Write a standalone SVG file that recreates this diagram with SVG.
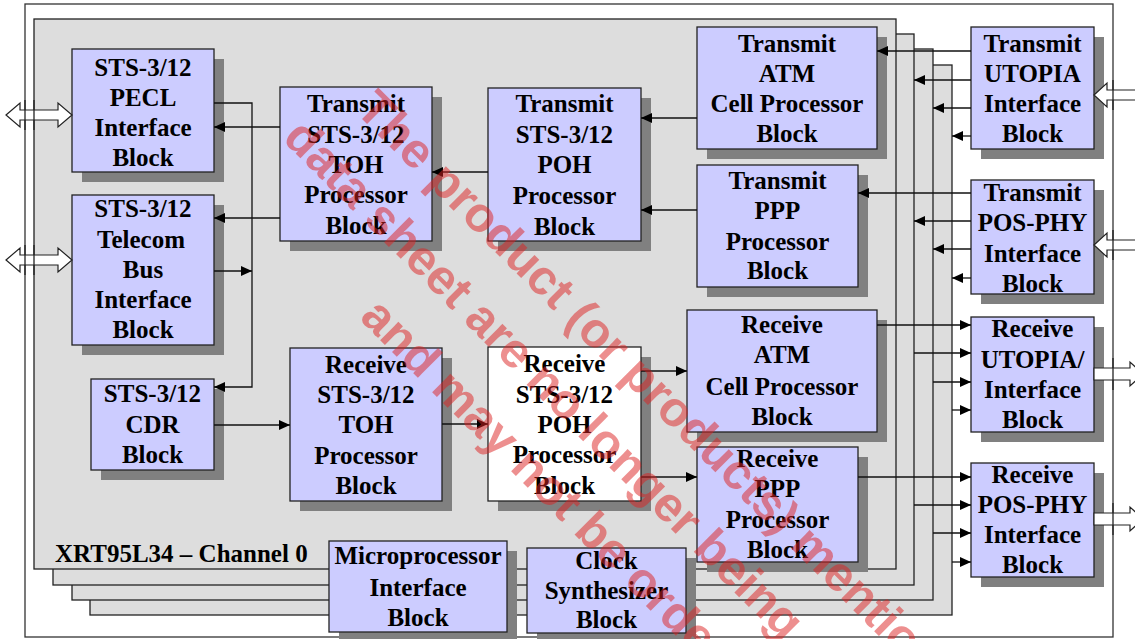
<svg xmlns="http://www.w3.org/2000/svg" width="1135" height="639" viewBox="0 0 1135 639">
<style>
.layer{fill:#dddddd;stroke:#222;stroke-width:1.3}
.sh{fill:#808080}
.bx{fill:#ccccff;stroke:#222;stroke-width:1.3}
.wbx{fill:#ffffff;stroke:#222;stroke-width:1.3}
.t{font-family:"Liberation Serif","Times New Roman",serif;font-weight:bold;font-size:25px;fill:#000;text-anchor:middle}
.lbl{font-family:"Liberation Serif","Times New Roman",serif;font-weight:bold;font-size:25px;fill:#000}
.c{fill:none;stroke:#111;stroke-width:1.3}
.ca{fill:none;stroke:#111;stroke-width:1.3;marker-end:url(#ah)}
.hol{fill:#ffffff;stroke:#222;stroke-width:1.2}
.fl{stroke:#222;stroke-width:1.3}
.wm{font-family:"Liberation Sans",Arial,sans-serif;font-weight:bold;font-size:49px;fill:#dd2222;opacity:0.5}
</style>
<defs>
<marker id="ah" markerUnits="userSpaceOnUse" markerWidth="11" markerHeight="10" refX="11" refY="5" orient="auto">
<path d="M0,0 L11,5 L0,10 z" fill="#000"/>
</marker>
</defs>
<g id="frame">
<rect x="25" y="4" width="1088" height="633" fill="#ffffff" stroke="#333" stroke-width="1.3"/>
<rect class="layer" x="90" y="65" width="862" height="550"/>
<rect class="layer" x="72" y="49" width="861" height="551"/>
<rect class="layer" x="53" y="34" width="861" height="551"/>
<rect class="layer" x="34" y="19" width="862" height="550"/>
<text class="lbl" x="55" y="562">XRT95L34 – Channel 0</text>
</g>
<g id="pecl">
<rect class="sh" x="82" y="59" width="142" height="123"/>
<rect class="bx" x="72" y="49" width="142" height="123"/>
<text class="t" x="143" y="76">STS-3/12</text><text class="t" x="143" y="106">PECL</text><text class="t" x="143" y="136">Interface</text><text class="t" x="143" y="166">Block</text>
</g>
<g id="telecom">
<rect class="sh" x="82" y="205" width="142" height="150"/>
<rect class="bx" x="72" y="195" width="142" height="150"/>
<text class="t" x="143" y="217">STS-3/12</text><text class="t" x="141" y="248">Telecom</text><text class="t" x="143" y="278">Bus</text><text class="t" x="143" y="308">Interface</text><text class="t" x="143" y="338">Block</text>
</g>
<g id="cdr">
<rect class="sh" x="101" y="389" width="123" height="91"/>
<rect class="bx" x="91" y="379" width="123" height="91"/>
<text class="t" x="152.5" y="402">STS-3/12</text><text class="t" x="152.5" y="433">CDR</text><text class="t" x="152.5" y="463">Block</text>
</g>
<g id="tx-toh">
<rect class="sh" x="290" y="97" width="152" height="154"/>
<rect class="bx" x="280" y="87" width="152" height="154"/>
<text class="t" x="356" y="112">Transmit</text><text class="t" x="356" y="143">STS-3/12</text><text class="t" x="356" y="173">TOH</text><text class="t" x="356" y="203">Processor</text><text class="t" x="356" y="234">Block</text>
</g>
<g id="tx-poh">
<rect class="sh" x="498" y="98" width="153" height="153"/>
<rect class="bx" x="488" y="88" width="153" height="153"/>
<text class="t" x="564.5" y="112">Transmit</text><text class="t" x="564.5" y="143">STS-3/12</text><text class="t" x="564.5" y="173">POH</text><text class="t" x="564.5" y="204">Processor</text><text class="t" x="564.5" y="235">Block</text>
</g>
<g id="tx-atm">
<rect class="sh" x="707" y="37" width="180" height="122"/>
<rect class="bx" x="697" y="27" width="180" height="122"/>
<text class="t" x="787" y="52">Transmit</text><text class="t" x="787" y="82">ATM</text><text class="t" x="787" y="112">Cell Processor</text><text class="t" x="787" y="142">Block</text>
</g>
<g id="tx-ppp">
<rect class="sh" x="707" y="175" width="161" height="122"/>
<rect class="bx" x="697" y="165" width="161" height="122"/>
<text class="t" x="777.5" y="189">Transmit</text><text class="t" x="777.5" y="219">PPP</text><text class="t" x="777.5" y="250">Processor</text><text class="t" x="777.5" y="279">Block</text>
</g>
<g id="tx-utopia">
<rect class="sh" x="981" y="37" width="123" height="122"/>
<rect class="bx" x="971" y="27" width="123" height="122"/>
<text class="t" x="1032.5" y="52">Transmit</text><text class="t" x="1032.5" y="82">UTOPIA</text><text class="t" x="1032.5" y="112">Interface</text><text class="t" x="1032.5" y="142">Block</text>
</g>
<g id="tx-posphy">
<rect class="sh" x="981" y="190" width="123" height="114"/>
<rect class="bx" x="971" y="180" width="123" height="114"/>
<text class="t" x="1032.5" y="201">Transmit</text><text class="t" x="1032.5" y="231">POS-PHY</text><text class="t" x="1032.5" y="262">Interface</text><text class="t" x="1032.5" y="292">Block</text>
</g>
<g id="rx-atm">
<rect class="sh" x="697" y="320" width="190" height="122"/>
<rect class="bx" x="687" y="310" width="190" height="122"/>
<text class="t" x="782" y="333">Receive</text><text class="t" x="782" y="363">ATM</text><text class="t" x="782" y="395">Cell Processor</text><text class="t" x="782" y="425">Block</text>
</g>
<g id="rx-ppp">
<rect class="sh" x="707" y="457" width="161" height="115"/>
<rect class="bx" x="697" y="447" width="161" height="115"/>
<text class="t" x="777.5" y="467">Receive</text><text class="t" x="777.5" y="497">PPP</text><text class="t" x="777.5" y="528">Processor</text><text class="t" x="777.5" y="558">Block</text>
</g>
<g id="rx-utopia">
<rect class="sh" x="981" y="327" width="123" height="115"/>
<rect class="bx" x="971" y="317" width="123" height="115"/>
<text class="t" x="1032.5" y="337">Receive</text><text class="t" x="1032.5" y="368">UTOPIA/</text><text class="t" x="1032.5" y="398">Interface</text><text class="t" x="1032.5" y="428">Block</text>
</g>
<g id="rx-posphy">
<rect class="sh" x="981" y="473" width="123" height="114"/>
<rect class="bx" x="971" y="463" width="123" height="114"/>
<text class="t" x="1032.5" y="483">Receive</text><text class="t" x="1032.5" y="513">POS-PHY</text><text class="t" x="1032.5" y="543">Interface</text><text class="t" x="1032.5" y="573">Block</text>
</g>
<g id="rx-toh">
<rect class="sh" x="300" y="358" width="152" height="153"/>
<rect class="bx" x="290" y="348" width="152" height="153"/>
<text class="t" x="366" y="373">Receive</text><text class="t" x="366" y="403">STS-3/12</text><text class="t" x="366" y="433">TOH</text><text class="t" x="366" y="464">Processor</text><text class="t" x="366" y="494">Block</text>
</g>
<g id="rx-poh">
<rect class="sh" x="498" y="357" width="153" height="154"/>
<rect class="wbx" x="488" y="347" width="153" height="154"/>
<text class="t" x="564.5" y="372">Receive</text><text class="t" x="564.5" y="403">STS-3/12</text><text class="t" x="564.5" y="433">POH</text><text class="t" x="564.5" y="463">Processor</text><text class="t" x="564.5" y="494">Block</text>
</g>
<g id="micro">
<rect class="sh" x="339" y="551" width="178" height="91"/>
<rect class="bx" x="329" y="541" width="178" height="91"/>
<text class="t" x="418" y="564">Microprocessor</text><text class="t" x="418" y="596">Interface</text><text class="t" x="418" y="626">Block</text>
</g>
<g id="clock">
<rect class="sh" x="537" y="558" width="159" height="85"/>
<rect class="bx" x="527" y="548" width="159" height="85"/>
<text class="t" x="606.5" y="569">Clock</text><text class="t" x="606.5" y="599">Synthesizer</text><text class="t" x="606.5" y="628">Block</text>
</g>
<g id="connectors">
<path class="ca" d="M280,127 H214"/>
<path class="ca" d="M280,218 H214"/>
<path class="ca" d="M214,103 H252 V387 H214"/>
<path class="ca" d="M214,271 H252"/>
<path class="ca" d="M214,425 H290"/>
<path class="ca" d="M488,172 H432"/>
<path class="ca" d="M697,118 H641"/>
<path class="ca" d="M697,210 H641"/>
<path class="ca" d="M971,51 H877"/>
<path class="ca" d="M971,80 H914"/>
<path class="ca" d="M971,108 H933"/>
<path class="ca" d="M971,136 H952"/>
<path class="ca" d="M971,193 H858"/>
<path class="ca" d="M971,221 H914"/>
<path class="ca" d="M971,249 H933"/>
<path class="ca" d="M971,278 H952"/>
<path class="ca" d="M877,325 H971"/>
<path class="ca" d="M914,353 H971"/>
<path class="ca" d="M933,382 H971"/>
<path class="ca" d="M952,410 H971"/>
<path class="ca" d="M858,477 H971"/>
<path class="ca" d="M914,505 H971"/>
<path class="ca" d="M933,533 H971"/>
<path class="ca" d="M952,562 H971"/>
<path class="ca" d="M442,424 H488"/>
<path class="ca" d="M641,371 H687"/>
<path class="ca" d="M641,477 H697"/>
<polygon class="hol" points="6,115 20,103 20,110 58,110 58,103 72,115 58,127 58,120 20,120 20,127"/>
<polygon class="hol" points="6,260 20,248 20,255 58,255 58,248 72,260 58,272 58,265 20,265 20,272"/>
<polygon class="hol" points="1094,95 1107,83 1107,90 1140,90 1140,100 1107,100 1107,107"/>
<polygon class="hol" points="1094,245 1107,233 1107,240 1140,240 1140,250 1107,250 1107,257"/>
<polygon class="hol" points="1094,368 1130,368 1130,362 1143,374 1130,386 1130,380 1094,380"/>
<polygon class="hol" points="1094,513 1130,513 1130,507 1143,519 1130,531 1130,525 1094,525"/>
</g>
<g id="frame-overlay">
<line class="fl" x1="25" y1="100" x2="25" y2="130"/>
<line class="fl" x1="34" y1="100" x2="34" y2="130"/>
<line class="fl" x1="25" y1="245" x2="25" y2="275"/>
<line class="fl" x1="34" y1="245" x2="34" y2="275"/>
<line class="fl" x1="1113" y1="80" x2="1113" y2="110"/>
<line class="fl" x1="1113" y1="230" x2="1113" y2="260"/>
<line class="fl" x1="1113" y1="358" x2="1113" y2="390"/>
<line class="fl" x1="1113" y1="503" x2="1113" y2="535"/>
</g>
<g id="watermark">
<text class="wm" transform="translate(354,111) rotate(45)">The product (or products) mentioned</text>
<text class="wm" transform="translate(281.5,139.5) rotate(45)">data sheet are no longer being</text>
<text class="wm" transform="translate(358.5,318.5) rotate(45)">and may not be ordered</text>
</g>
</svg>
